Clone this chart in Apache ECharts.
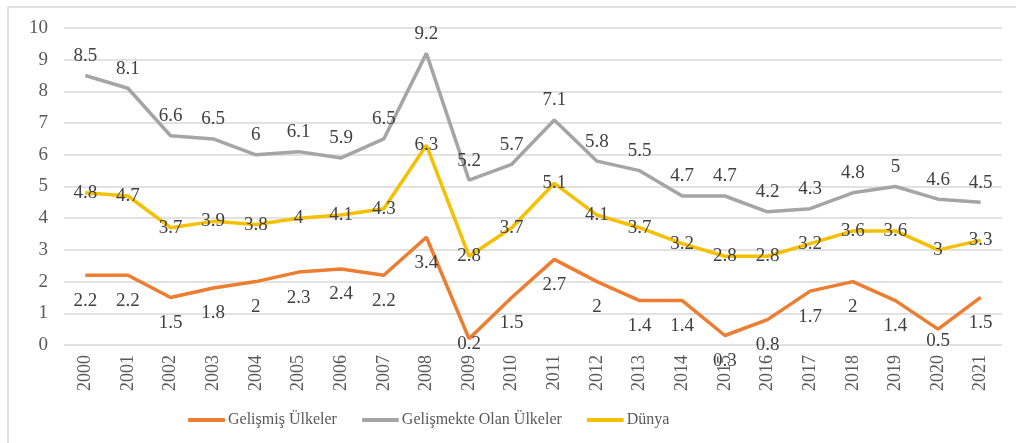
<!DOCTYPE html>
<html>
<head>
<meta charset="utf-8">
<script src="https://cdn.jsdelivr.net/npm/echarts@6/dist/echarts.min.js"></script>
<style>
  html, body { margin: 0; padding: 0; background: #fff; }
  #chart { width: 1016px; height: 443px; }
</style>
</head>
<body>
<div id="chart"></div>
<script>
// 数据
var years = ['2000', '2001', '2002', '2003', '2004', '2005', '2006', '2007', '2008', '2009', '2010',
  '2011', '2012', '2013', '2014', '2015', '2016', '2017', '2018', '2019', '2020', '2021'];
var gelismis = [2.2, 2.2, 1.5, 1.8, 2, 2.3, 2.4, 2.2, 3.4, 0.2, 1.5, 2.7, 2, 1.4, 1.4, 0.3, 0.8, 1.7, 2, 1.4, 0.5, 1.5];
var gelismekte = [8.5, 8.1, 6.6, 6.5, 6, 6.1, 5.9, 6.5, 9.2, 5.2, 5.7, 7.1, 5.8, 5.5, 4.7, 4.7, 4.2, 4.3, 4.8, 5, 4.6, 4.5];
var dunya = [4.8, 4.7, 3.7, 3.9, 3.8, 4, 4.1, 4.3, 6.3, 2.8, 3.7, 5.1, 4.1, 3.7, 3.2, 2.8, 2.8, 3.2, 3.6, 3.6, 3, 3.3];
var seriesNames = ['Gelişmiş Ülkeler', 'Gelişmekte Olan Ülkeler', 'Dünya'];

var font = '"Liberation Serif", "DejaVu Serif", serif';
var labelColor = '#404040';

// 靠近底部的标签距离较小（与原图一致）
var nearZeroDistance = { 9: -4, 20: 2 };
var gelismisData = gelismis.map(function(v, i) {
  if (nearZeroDistance[i] === undefined) return v;
  return { value: v, label: { distance: nearZeroDistance[i] } };
});

var chart = echarts.init(document.getElementById('chart'));
chart.setOption({
  animation: false,
  textStyle: { fontFamily: font },
  graphic: [{ //外框
    type: 'polyline',
    shape: { points: [[8, 443], [8, 7], [1016, 7]] },
    style: { stroke: '#d9d9d9', lineWidth: 1.5, fill: null }
  }],
  legend: {
    data: seriesNames,
    top: 407,
    left: 183,
    itemWidth: 37,
    itemHeight: 4,
    itemGap: 25,
    icon: 'roundRect',
    textStyle: { fontFamily: font, fontSize: 16, color: '#595959', padding: [0, 0, 0, -2] }
  },
  grid: {
    left: 64,
    right: 14,
    top: 28,
    bottom: 98
  },
  xAxis: {
    type: 'category',
    data: years,
    boundaryGap: true,
    axisLine: { show: false },
    axisTick: { show: false },
    axisLabel: {
      rotate: 90,
      margin: 10,
      color: '#595959',
      fontFamily: font,
      fontSize: 18
    }
  },
  yAxis: {
    type: 'value',
    min: 0,
    max: 10,
    interval: 1,
    axisLine: { show: false },
    axisTick: { show: false },
    splitLine: { lineStyle: { color: '#d9d9d9', width: 1.5 } },
    axisLabel: {
      margin: 16,
      color: '#595959',
      fontFamily: font,
      fontSize: 19
    }
  },
  series: [{
    name: seriesNames[0],
    type: 'line',
    data: gelismisData,
    symbol: 'circle',
    symbolSize: 0.1,
    showAllSymbol: true,
    lineStyle: { color: '#ed7d31', width: 3.5 },
    itemStyle: { color: '#ed7d31' },
    label: {
      show: true,
      position: 'bottom',
      distance: 16,
      color: labelColor,
      fontFamily: font,
      fontSize: 19
    }
  }, {
    name: seriesNames[1],
    type: 'line',
    data: gelismekte,
    symbol: 'circle',
    symbolSize: 0.1,
    showAllSymbol: true,
    lineStyle: { color: '#a5a5a5', width: 3.5 },
    itemStyle: { color: '#a5a5a5' },
    label: {
      show: true,
      position: 'top',
      distance: 10,
      color: labelColor,
      fontFamily: font,
      fontSize: 19
    }
  }, {
    name: seriesNames[2],
    type: 'line',
    data: dunya,
    symbol: 'circle',
    symbolSize: 0.1,
    showAllSymbol: true,
    lineStyle: { color: '#f5c000', width: 3.5 },
    itemStyle: { color: '#f5c000' },
    label: {
      show: true,
      position: 'inside',
      color: labelColor,
      fontFamily: font,
      fontSize: 19
    }
  }]
});
</script>
</body>
</html>
